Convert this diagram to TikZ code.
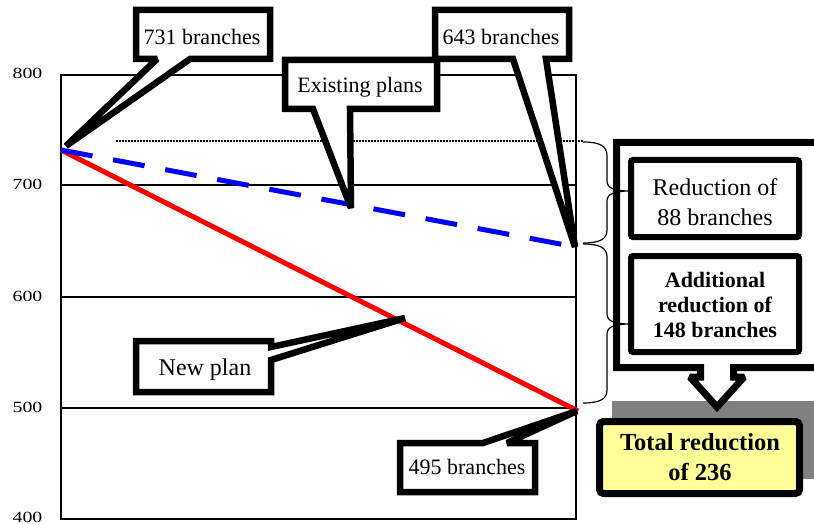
\documentclass[tikz,border=0pt]{standalone}
\usepackage{fontspec}
\setmainfont{Liberation Serif}
\begin{document}
\begin{tikzpicture}[x=1pt,y=-1pt,
  callout/.style={draw=black,line width=6.5pt,fill=white,line join=miter,miter limit=2},
  txt/.style={inner sep=0pt,anchor=center,font=\fontsize{22}{26}\selectfont},
  axl/.style={inner sep=0pt,anchor=center,font=\fontsize{15.5}{17}\selectfont},
  grid/.style={line width=1.5pt},
  bracel/.style={line width=1.2pt},
]
\clip (0,0) rectangle (814,524);
\useasboundingbox (0,0) rectangle (814,524);

% axis labels
\node[axl] (y800) at (27.5,73) {\scalebox{1.28}[1]{800}};
\node[axl] (y700) at (27.5,184) {\scalebox{1.28}[1]{700}};
\node[axl] (y600) at (27.5,296) {\scalebox{1.28}[1]{600}};
\node[axl] (y500) at (27.5,407) {\scalebox{1.28}[1]{500}};
\node[axl] (y400) at (27.5,517) {\scalebox{1.28}[1]{400}};

% chart frame and grid
\draw[line width=1.8pt] (61,75) rectangle (576,519);
\draw[grid] (61,185) -- (576,185);
\draw[grid] (61,297) -- (576,297);
\draw[grid] (61,408) -- (576,408);
\draw[line width=1.2pt,dash pattern=on 1.5pt off 1.5pt] (116,141) -- (583,141);

% data lines
\coordinate (s) at (61,150);
\coordinate (b) at (576,247);
\coordinate (r) at (578,411);
\draw[red,line width=5pt] (s) -- (r);
\draw[blue,line width=5pt,dash pattern=on 32pt off 21pt] (s) -- (b);

% callouts
\draw[callout] (136,10) -- (270,10) -- (270,59) -- (190,59) -- (66,146) -- (157,59) -- (136,59) -- cycle;
\node[txt] (c731) at (202,37) {731 branches};

\draw[callout] (435,10) -- (569,10) -- (569,59) -- (546,59) -- (575,247) -- (513,59) -- (435,59) -- cycle;
\node[txt] (c643) at (501,37) {643 branches};

\draw[callout] (285,60) -- (437,60) -- (437,109) -- (350,109) -- (351,208) -- (313,109) -- (285,109) -- cycle;
\node[txt] (cex) at (360,87) {Existing plans};

\draw[callout] (136,341) -- (271,341) -- (271,347) -- (405,318) -- (271,360) -- (271,392) -- (136,392) -- cycle;
\node[txt,font=\fontsize{24}{28}\selectfont] (cnew) at (205,370) {New plan};

\draw[callout] (400,443) -- (483,443) -- (577,411) -- (507,443) -- (535,443) -- (535,492) -- (400,492) -- cycle;
\node[txt] (c495) at (467,467) {495 branches};

% gray shadow
\fill[black!50] (612,401) rectangle (820,479);

% right frame with down arrow
\draw[draw=black,line width=7pt,fill=white,line join=miter,miter limit=2]
  (616.5,142.5) -- (830,142.5) -- (830,367.5) -- (733.5,367.5) -- (733.5,377) -- (744,377)
  -- (717,407) -- (690,377) -- (700.5,377) -- (700.5,367.5) -- (616.5,367.5) -- cycle;

\draw[line width=6pt,rounded corners=2pt] (631,160) rectangle (799,237);
\node[txt,font=\fontsize{24}{30}\selectfont,align=center] (red88) at (715,202) {Reduction of\\88 branches};

\draw[line width=6pt,rounded corners=2pt] (631,256) rectangle (799,352);
\node[txt,font=\bfseries\fontsize{22}{25}\selectfont,align=center] (add148) at (715,305) {Additional\\reduction of\\148 branches};

% total
\draw[line width=7pt,fill={rgb,255:red,255;green,255;blue,153},rounded corners=4pt] (599.5,421.5) rectangle (799.5,493.5);
\node[txt,font=\bfseries\fontsize{24.5}{30}\selectfont,align=center] (total) at (700,457) {Total reduction\\of 236};

% braces
\draw[bracel] (583,142) .. controls (600,142) and (607,146) .. (607,156) -- (607,181)
  .. controls (607,188) and (614,191) .. (630,191)
  .. controls (614,191) and (607,194) .. (607,201) -- (607,230)
  .. controls (607,239) and (600,243) .. (583,243);
\draw[bracel] (583,244) .. controls (600,244) and (607,248) .. (607,257) -- (607,314)
  .. controls (607,321) and (614,324) .. (630,324)
  .. controls (614,324) and (607,327) .. (607,334) -- (607,390)
  .. controls (607,399) and (600,403) .. (583,403);
\end{tikzpicture}
\end{document}
